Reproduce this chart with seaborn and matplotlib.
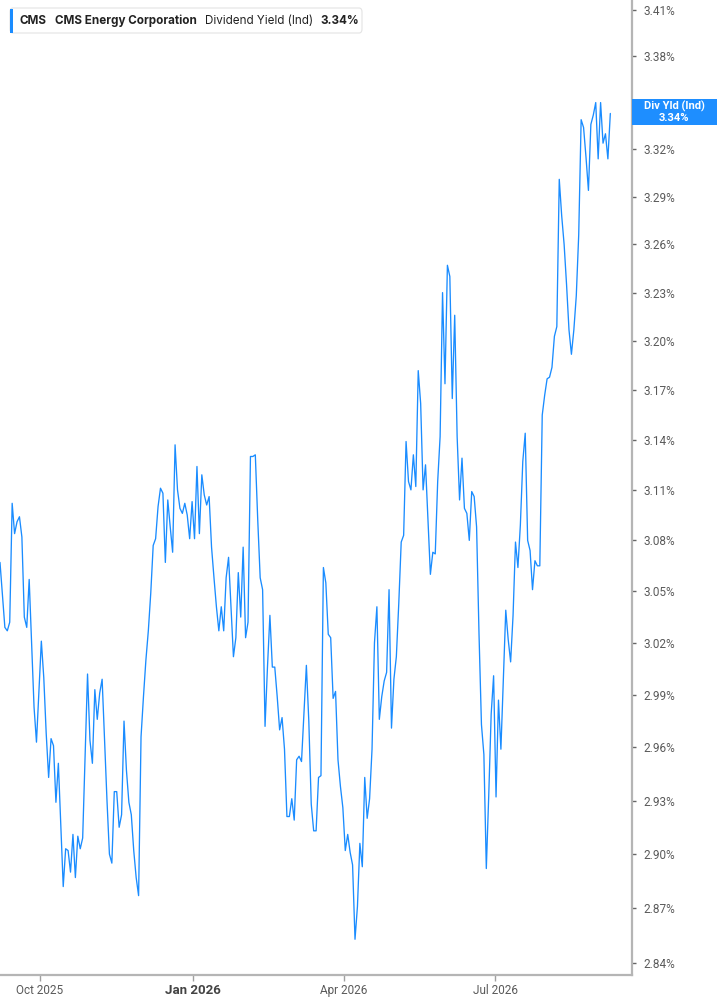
import numpy as np
import pandas as pd
import matplotlib
matplotlib.use("Agg")
import matplotlib.pyplot as plt
import matplotlib.dates as mdates
from matplotlib.patches import FancyBboxPatch, Rectangle
from matplotlib.ticker import FixedLocator, FixedFormatter, NullLocator
import seaborn as sns

# ---------------- data ----------------
start_date = "2025-09-07"
end_date = "2026-09-08"
div_yield = [
    3.067, 3.048, 3.029, 3.027, 3.032, 3.102, 3.084, 3.091, 3.094, 3.082,
    3.035, 3.029, 3.057, 3.019, 2.983, 2.963, 2.992, 3.021, 3.000, 2.968,
    2.943, 2.965, 2.961, 2.929, 2.951, 2.916, 2.882, 2.903, 2.902, 2.890,
    2.911, 2.887, 2.910, 2.903, 2.909, 2.955, 3.002, 2.964, 2.951, 2.993,
    2.976, 2.991, 2.999, 2.964, 2.930, 2.900, 2.895, 2.935, 2.935, 2.915,
    2.922, 2.975, 2.947, 2.929, 2.922, 2.902, 2.887, 2.877, 2.966, 2.989,
    3.010, 3.027, 3.049, 3.077, 3.081, 3.100, 3.111, 3.108, 3.067, 3.104,
    3.088, 3.073, 3.137, 3.110, 3.099, 3.096, 3.102, 3.095, 3.081, 3.103,
    3.081, 3.124, 3.084, 3.119, 3.107, 3.101, 3.106, 3.076, 3.058, 3.041,
    3.027, 3.041, 3.027, 3.058, 3.070, 3.041, 3.012, 3.023, 3.061, 3.035,
    3.076, 3.023, 3.032, 3.130, 3.130, 3.131, 3.092, 3.058, 3.051, 2.972,
    3.006, 3.036, 3.006, 3.006, 2.989, 2.970, 2.977, 2.959, 2.921, 2.921,
    2.931, 2.919, 2.953, 2.955, 2.952, 2.980, 3.007, 2.975, 2.928, 2.913,
    2.913, 2.943, 2.944, 3.064, 3.055, 3.025, 3.023, 2.988, 2.992, 2.953,
    2.938, 2.926, 2.902, 2.911, 2.901, 2.894, 2.853, 2.871, 2.906, 2.893,
    2.943, 2.920, 2.931, 2.959, 3.020, 3.041, 2.976, 2.989, 2.998, 3.003,
    3.051, 2.971, 2.999, 3.012, 3.043, 3.079, 3.083, 3.139, 3.115, 3.110,
    3.131, 3.112, 3.182, 3.162, 3.110, 3.125, 3.093, 3.060, 3.073, 3.072,
    3.115, 3.142, 3.230, 3.174, 3.247, 3.240, 3.165, 3.216, 3.142, 3.104,
    3.129, 3.099, 3.096, 3.080, 3.109, 3.106, 3.088, 3.025, 2.973, 2.956,
    2.892, 2.933, 2.979, 3.001, 2.932, 2.987, 2.959, 2.998, 3.039, 3.022,
    3.009, 3.036, 3.079, 3.064, 3.089, 3.127, 3.144, 3.080, 3.074, 3.051,
    3.068, 3.065, 3.065, 3.155, 3.167, 3.177, 3.178, 3.184, 3.203, 3.209,
    3.301, 3.278, 3.260, 3.235, 3.207, 3.192, 3.207, 3.228, 3.266, 3.339,
    3.334, 3.315, 3.294, 3.336, 3.342, 3.350, 3.314, 3.350, 3.324, 3.330,
    3.314, 3.343,
]
y_ticks = [3.41, 3.38, 3.32, 3.29, 3.26, 3.23, 3.20, 3.17, 3.14, 3.11,
           3.08, 3.05, 3.02, 2.99, 2.96, 2.93, 2.90, 2.87, 2.84]
x_tick_dates = ["2025-10-01", "2026-01-01", "2026-04-01", "2026-07-01"]
x_tick_labels = ["Oct 2025", "Jan 2026", "Apr 2026", "Jul 2026"]
ticker = "CMS"
company = "CMS Energy Corporation"
metric = "Dividend Yield (Ind)"
badge_label = "Div Yld (Ind)"
last_label = "3.34%"

dates = pd.date_range(start_date, end_date, periods=len(div_yield))
df = pd.DataFrame({"date": dates, "value": div_yield})

# ---------------- style ----------------
sns.set_theme(style="white")
plt.rcParams["font.family"] = ["Roboto", "DejaVu Sans"]

W, H = 717, 1005
fig = plt.figure(figsize=(W / 100, H / 100), dpi=100)
fig.patch.set_facecolor("white")
ax_left, ax_right, ax_top, ax_bottom = 0, 632, 0, 975
ax = fig.add_axes([ax_left / W, (H - ax_bottom) / H,
                   (ax_right - ax_left) / W, (ax_bottom - ax_top) / H])

line_color = "#1a8cff"
sns.lineplot(data=df, x="date", y="value", ax=ax, color=line_color,
             linewidth=0.95, legend=False)

ax.set_yscale("log")
ax.set_ylim(2.8335, 3.4166)
ax.set_xlim(pd.Timestamp("2025-09-07"), pd.Timestamp("2026-09-21"))

ax.yaxis.tick_right()
ax.yaxis.set_major_locator(FixedLocator(y_ticks))
ax.yaxis.set_major_formatter(FixedFormatter([f"{v:.2f}%" for v in y_ticks]))
ax.yaxis.set_minor_locator(NullLocator())
ax.tick_params(axis="y", which="both", right=True, left=False, length=3,
               width=1, color="#666666", labelsize=8.5, labelcolor="#5a5a5a",
               pad=5)

xt = [mdates.date2num(pd.Timestamp(d)) for d in x_tick_dates]
ax.set_xticks(xt)
ax.set_xticklabels(x_tick_labels)
ax.tick_params(axis="x", bottom=True, length=4, width=1, color="#a0a0a0",
               labelsize=8.5, labelcolor="#5a5a5a", pad=2.5)
for lab in ax.get_xticklabels():
    if lab.get_text().startswith("Jan"):
        lab.set_fontweight("bold")
        lab.set_color("#444444")
        lab.set_fontsize(9.5)

ax.set_xlabel("")
ax.set_ylabel("")
for s in ["left", "top"]:
    ax.spines[s].set_visible(False)
for s in ["right", "bottom"]:
    ax.spines[s].set_color("#b5b5b5")
    ax.spines[s].set_linewidth(1.6)
ax.grid(False)

# ---------------- legend box (top-left) ----------------
def fx(px):
    return px / W

def fy(py):
    return 1 - py / H

legend_box = FancyBboxPatch((fx(10), fy(33)), fx(362) - fx(10), fy(8) - fy(33),
                            boxstyle="round,pad=0,rounding_size=0.004",
                            transform=fig.transFigure, facecolor="white",
                            edgecolor="#e3e3e3", linewidth=0.8, zorder=10)
fig.add_artist(legend_box)
fig.add_artist(Rectangle((fx(10), fy(33)), fx(13) - fx(10), fy(9) - fy(33),
                         transform=fig.transFigure, facecolor=line_color,
                         edgecolor="none", zorder=11))
ty = fy(21)
txt_kw = dict(transform=fig.transFigure, va="center", ha="left",
              fontsize=8.4, color="#222222", zorder=12,
              family=["Inter", "DejaVu Sans"])
fig.text(fx(20), ty, ticker, fontweight="bold", **txt_kw)
fig.text(fx(55), ty, company, fontweight="bold", **txt_kw)
fig.text(fx(205), ty, metric, fontweight="normal", **txt_kw)
fig.text(fx(320), ty, last_label, fontweight="bold", **txt_kw)

# ---------------- last-value badge (right) ----------------
last_y_disp = ax.transData.transform((mdates.date2num(dates[-1]), div_yield[-1]))[1]
last_y_px = H - last_y_disp
badge_top, badge_bot = last_y_px - 14, last_y_px + 11.5
fig.add_artist(Rectangle((fx(632), fy(badge_bot)), fx(717) - fx(632),
                         fy(badge_top) - fy(badge_bot),
                         transform=fig.transFigure, facecolor="#1e8eff",
                         edgecolor="none", zorder=20))
fig.text(fx(674), fy(last_y_px - 7.5), badge_label, transform=fig.transFigure,
         ha="center", va="center", fontsize=8, fontweight="bold",
         color="white", zorder=21)
fig.text(fx(674), fy(last_y_px + 5), last_label, transform=fig.transFigure,
         ha="center", va="center", fontsize=8, fontweight="bold",
         color="white", zorder=21)

fig.savefig("out.png", dpi=100, facecolor="white")
